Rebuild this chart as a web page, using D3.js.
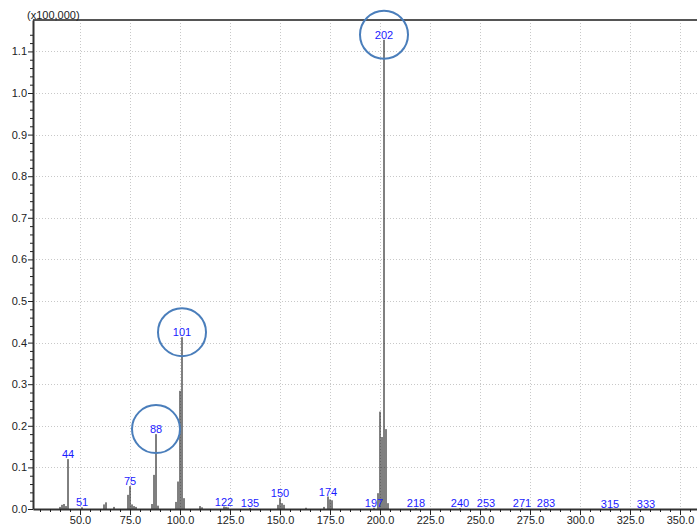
<!DOCTYPE html>
<html>
<head>
<meta charset="utf-8">
<script src="https://cdn.jsdelivr.net/npm/d3@7"></script>
<style>
  html, body { margin: 0; padding: 0; background: #fff; }
  svg { display: block; font-family: "Liberation Sans", Arial, sans-serif; }
</style>
</head>
<body>
<svg id="chart" width="697" height="528"></svg>
<script>
// m/z values and their intensities (units of 100,000 counts)
const mz = [40, 41, 42, 43, 44, 51, 62, 63, 67, 74, 75, 76, 77, 78,
            86, 87, 88, 89, 98, 99, 100, 101, 102, 110, 111,
            122, 123, 124, 135, 149, 150, 151, 152, 163, 172, 174, 175, 176,
            197, 199, 200, 201, 202, 203, 204,
            218, 240, 253, 271, 283, 315, 333];
const intensity = [0.005, 0.010, 0.012, 0.007, 0.120, 0.004, 0.011, 0.016, 0.005, 0.034, 0.055, 0.011, 0.007, 0.005,
                   0.012, 0.082, 0.180, 0.008, 0.017, 0.066, 0.284, 0.413, 0.026, 0.007, 0.004,
                   0.006, 0.005, 0.004, 0.002, 0.010, 0.026, 0.014, 0.010, 0.003, 0.005, 0.030, 0.023, 0.021,
                   0.003, 0.038, 0.234, 0.173, 1.128, 0.192, 0.014,
                   0.002, 0.002, 0.002, 0.002, 0.002, 0.001, 0.001];

// peaks annotated with their m/z
const labeledPeaks = [44, 51, 75, 88, 101, 122, 135, 150, 174, 197, 202, 218, 240, 253, 271, 283, 315, 333];
// annotated peaks that are highlighted with a ring
const circledPeaks = [88, 101, 202];

// axis ticks
const xMajorTicks = [50, 75, 100, 125, 150, 175, 200, 225, 250, 275, 300, 325, 350];
const yMajorTicks = [0.0, 0.1, 0.2, 0.3, 0.4, 0.5, 0.6, 0.7, 0.8, 0.9, 1.0, 1.1];
const yUnitLabel = "(x100,000)";

const peaks = mz.map((m, i) => ({ mz: m, value: intensity[i] }));
const byMz = new Map(peaks.map(p => [p.mz, p.value]));

const W = 697, H = 528;
const margin = { top: 20, right: 0, bottom: 19, left: 33 };

const svg = d3.select("#chart");

const x = d3.scaleLinear().domain([26.5, 358.5]).range([margin.left, W - margin.right]);
const y = d3.scaleLinear().domain([0, 1.1755]).range([H - margin.bottom, margin.top]);

const xMinor = d3.range(30, 358, 5).filter(v => v % 25 !== 0);
const yMinor = d3.range(0, 58).map(i => i * 0.02).filter(v => Math.abs(v * 10 - Math.round(v * 10)) > 1e-6 && v < 1.17);

// grid
const grid = svg.append("g").attr("stroke", "#c8c8c8").attr("stroke-width", 1).attr("stroke-dasharray", "1,2");
grid.selectAll("line.v").data(xMajorTicks).join("line")
  .attr("x1", d => Math.round(x(d)) + 0.5).attr("x2", d => Math.round(x(d)) + 0.5)
  .attr("y1", y.range()[1]).attr("y2", y.range()[0]);
grid.selectAll("line.h").data(yMajorTicks.filter(d => d > 0)).join("line")
  .attr("x1", margin.left).attr("x2", W)
  .attr("y1", d => Math.round(y(d)) + 0.5).attr("y2", d => Math.round(y(d)) + 0.5);

// peaks as sticks
svg.append("g").selectAll("line").data(peaks).join("line")
  .attr("x1", d => x(d.mz)).attr("x2", d => x(d.mz))
  .attr("y1", y(0)).attr("y2", d => y(d.value))
  .attr("stroke", "#000").attr("stroke-width", 1);

// top frame line
svg.append("line")
  .attr("x1", margin.left).attr("x2", W)
  .attr("y1", margin.top).attr("y2", margin.top)
  .attr("stroke", "#555").attr("stroke-width", 2);

// x axis
const xAxisG = svg.append("g").attr("transform", `translate(0,${y(0)})`);
xAxisG.call(d3.axisBottom(x).tickValues(xMajorTicks).tickFormat(d3.format(".1f")).tickSize(6).tickSizeOuter(0));
const xMinorG = svg.append("g").attr("transform", `translate(0,${y(0)})`);
xMinorG.call(d3.axisBottom(x).tickValues(xMinor).tickFormat("").tickSize(3).tickSizeOuter(0));
xMinorG.select(".domain").remove();

// y axis
const yAxisG = svg.append("g").attr("transform", `translate(${margin.left},0)`);
yAxisG.call(d3.axisLeft(y).tickValues(yMajorTicks).tickFormat(d3.format(".1f")).tickSize(5).tickSizeOuter(0));
const yMinorG = svg.append("g").attr("transform", `translate(${margin.left},0)`);
yMinorG.call(d3.axisLeft(y).tickValues(yMinor).tickFormat("").tickSize(3).tickSizeOuter(0));
yMinorG.select(".domain").remove();

[xAxisG, yAxisG].forEach(g => {
  g.select(".domain").attr("stroke", "#333").attr("stroke-width", 2);
  g.selectAll("text").attr("fill", "#222").style("font-size", "11px")
    .style("font-family", '"Liberation Sans", Arial, sans-serif');
});
[xAxisG, yAxisG, xMinorG, yMinorG].forEach(g => g.selectAll(".tick line").attr("stroke", "#222"));
xAxisG.selectAll("text").attr("dy", "0.95em").attr("y", 5);
yAxisG.selectAll("text").attr("x", -6);

// unit label above the y axis
svg.append("text")
  .attr("x", 27).attr("y", 19)
  .attr("fill", "#222").style("font-size", "11px")
  .text(yUnitLabel);

// peak annotations
const labelBase = m => y(byMz.get(m)) - 1;
svg.append("g").selectAll("text").data(labeledPeaks).join("text")
  .attr("x", d => x(d)).attr("y", d => labelBase(d))
  .attr("text-anchor", "middle")
  .attr("fill", "#1a1aff").style("font-size", "11px")
  .text(d => d);

// rings around highlighted peaks
svg.append("g").selectAll("circle").data(circledPeaks).join("circle")
  .attr("cx", d => x(d)).attr("cy", d => labelBase(d) - 4)
  .attr("r", 24)
  .attr("fill", "none").attr("stroke", "#4a7ebb").attr("stroke-width", 2);
</script>
</body>
</html>
